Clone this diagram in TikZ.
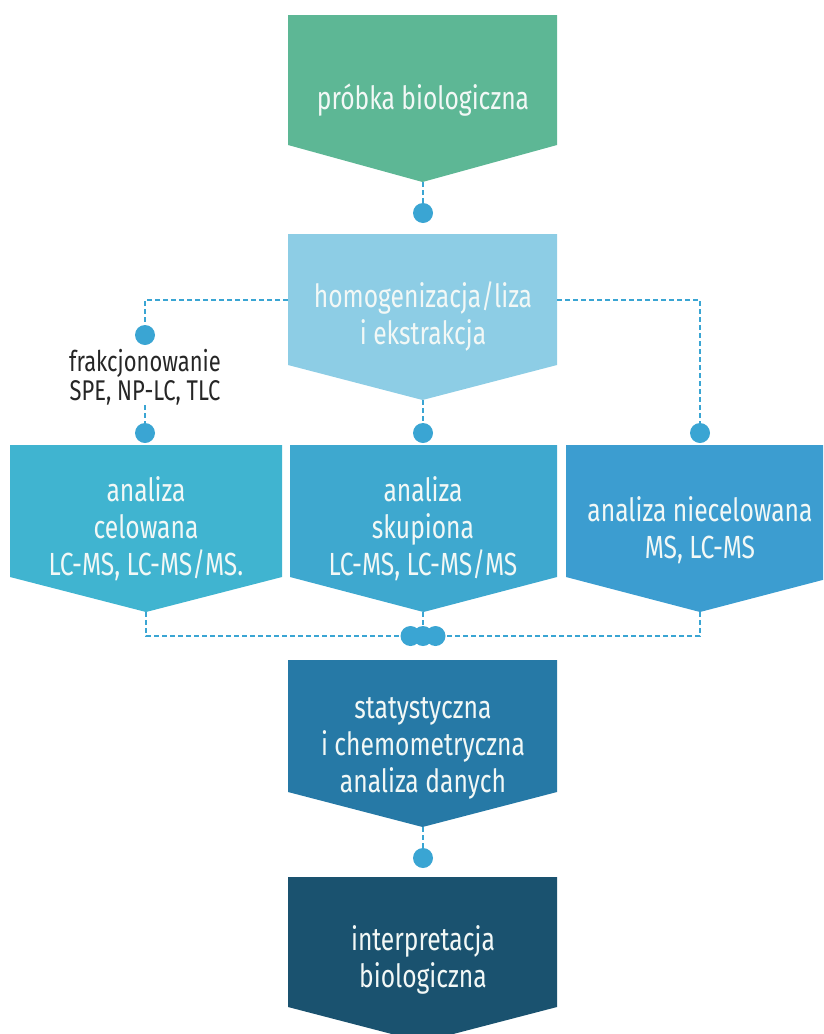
\documentclass[tikz,border=0pt]{standalone}
\usepackage{fontspec}
\setmainfont{Fira Sans}[FakeStretch=0.77]
\definecolor{cgreen}{HTML}{5DB795}
\definecolor{clight}{HTML}{8DCDE5}
\definecolor{ccel}{HTML}{40B4D0}
\definecolor{cskup}{HTML}{3EA8CF}
\definecolor{cniec}{HTML}{3C9DD0}
\definecolor{cstat}{HTML}{2679A6}
\definecolor{cint}{HTML}{1A526F}
\definecolor{cdot}{HTML}{3AA5D3}
\definecolor{cfg}{HTML}{F2F8F6}
\definecolor{clabel}{HTML}{262626}
\newcommand\chevshape[6]{% colour, x1, x2, top, shoulder, tip
  \fill[#1] (#2,#4) -- (#3,#4) -- (#3,#5) -- ({(#2+#3)/2},#6) -- (#2,#5) -- cycle;}
\begin{document}
\begin{tikzpicture}[x=1pt,y=-1pt,
  boxtext/.style={text=cfg, align=center, inner sep=0pt,
    font=\fontsize{32}{37}\selectfont},
  sidelabel/.style={text=clabel, align=center, inner sep=0pt,
    font=\fontsize{28.5}{29}\selectfont},
  dotnode/.style={circle, fill=cdot, inner sep=0pt, minimum size=20pt},
  link/.style={draw=cdot, line width=1.5pt, dash pattern=on 5pt off 3pt}]
\useasboundingbox (0,0) rectangle (823,1034);
\begin{scope}
\clip (0,0) rectangle (823,1034);
% boxes
\chevshape{cgreen}{288}{557}{15}{145}{182}
\chevshape{clight}{288}{557}{234}{365}{400}
\chevshape{ccel}{10}{282}{445}{577}{612}
\chevshape{cskup}{290}{557}{445}{577}{612}
\chevshape{cniec}{566}{834}{445}{577}{612}
\chevshape{cstat}{288}{557}{660}{792}{827}
\chevshape{cint}{288}{557}{877}{1007}{1042}
\end{scope}
% texts
\node[boxtext] (probka) at (423,100) {próbka biologiczna};
\node[boxtext] (homog) at (423,316) {homogenizacja/liza\\i ekstrakcja};
\node[boxtext] (celow) at (146,529) {analiza\\celowana\\LC-MS, LC-MS/MS.};
\node[boxtext] (skup) at (423,529) {analiza\\skupiona\\LC-MS, LC-MS/MS};
\node[boxtext] (niecel) at (700,530) {analiza niecelowana\\MS, LC-MS};
\node[boxtext] (stat) at (423,748) {statystyczna\\i chemometryczna\\analiza danych};
\node[boxtext] (interp) at (423,960) {interpretacja\\biologiczna};
\node[sidelabel] (frak) at (145,377) {frakcjonowanie\\SPE, NP-LC, TLC};
% anchor coordinates
\coordinate (tProbka) at (423,182);
\coordinate (tHomog) at (423,400);
\coordinate (hL) at (288,300);
\coordinate (hR) at (557,300);
\coordinate (tCel) at (146,612);
\coordinate (tSkup) at (423,612);
\coordinate (tNiec) at (700,612);
\coordinate (tStat) at (423,827);
% dots
\node[dotnode] (d1) at (423,213) {};
\node[dotnode] (dL1) at (145,335) {};
\node[dotnode] (dL2) at (145,433) {};
\node[dotnode] (dM) at (423,433) {};
\node[dotnode] (dR) at (700,433) {};
\node[dotnode] (b1) at (410.5,636) {};
\node[dotnode] (b3) at (435.5,636) {};
\node[dotnode] (b2) at (423,636) {};
\node[dotnode] (d5) at (423,858) {};
% connectors
\draw[link] (tProbka) -- (d1);
\draw[link] (hL) -| (dL1);
\draw[link] (frak.south) -- (dL2);
\draw[link] (tHomog) -- (dM);
\draw[link] (hR) -| (dR);
\draw[link] (tCel) |- (b1);
\draw[link] (tSkup) -- (b2);
\draw[link] (tNiec) |- (b3);
\draw[link] (tStat) -- (d5);
\end{tikzpicture}
\end{document}
